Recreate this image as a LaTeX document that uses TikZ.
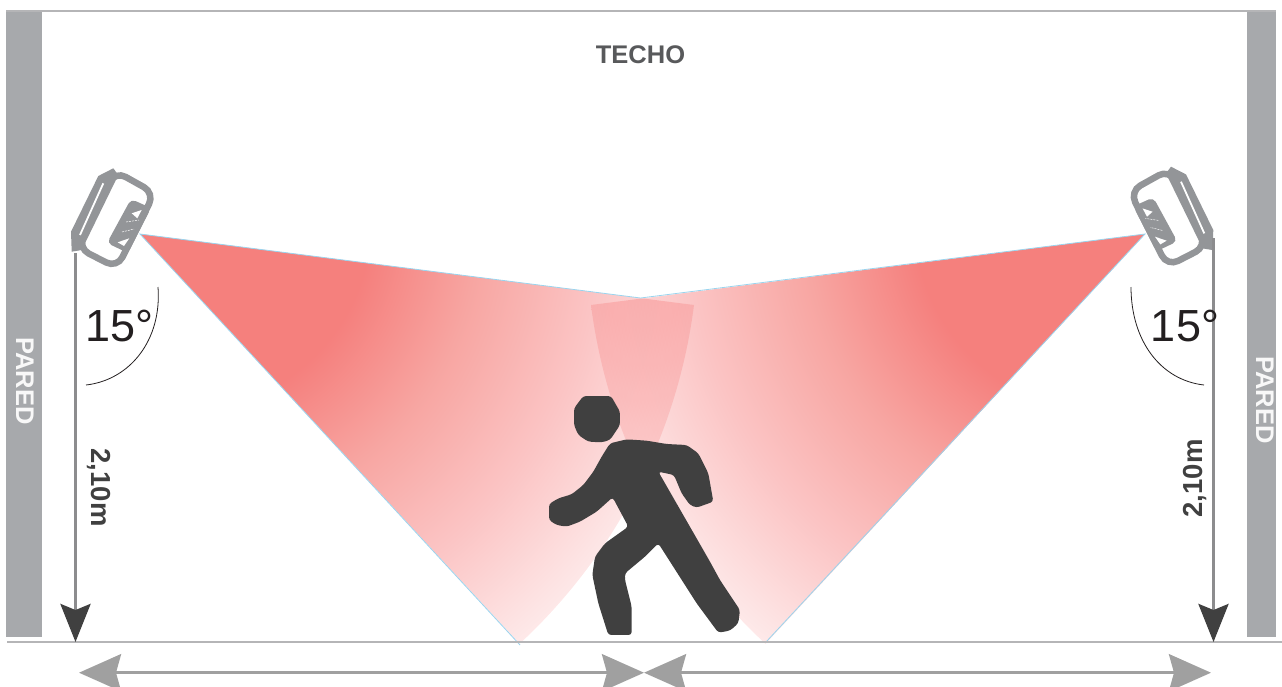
\documentclass[tikz,border=0pt]{standalone}
\usepackage{fontspec}
\setmainfont{Liberation Sans}
\usetikzlibrary{arrows.meta,positioning}
\definecolor{WGray}{HTML}{A7A9AC}
\definecolor{LGray}{HTML}{B5B5B7}
\definecolor{SGray}{HTML}{939598}
\definecolor{AGray}{HTML}{8C8C8E}
\definecolor{HGray}{HTML}{A0A0A0}
\definecolor{TGray}{HTML}{58595B}
\definecolor{PDark}{HTML}{404040}
\definecolor{DBlack}{HTML}{231F20}
\definecolor{EBlue}{HTML}{9AD4EE}
% radial fade of one sensor cone, 25bp = 620 px
\pgfdeclareradialshading{coneshade}{\pgfpoint{0bp}{0bp}}{%
  rgb(0bp)=(0.96,0.50,0.49);
  rgb(7.66bp)=(0.96,0.50,0.49);
  rgb(12.1bp)=(0.97,0.65,0.635);
  rgb(16.9bp)=(0.985,0.77,0.77);
  rgb(21bp)=(0.993,0.89,0.89);
  rgb(25bp)=(1,1,1);
  rgb(50bp)=(1,1,1)}
\begin{document}
\begin{tikzpicture}[
  x=1pt,y=-1pt,
  wall/.style={fill=WGray,draw=none},
  wlabel/.style={font=\bfseries\fontsize{25.5}{25.5}\selectfont,text=white!92!WGray,rotate=-90},
  mlabel/.style={font=\bfseries\fontsize{25.5}{25.5}\selectfont,text=TGray},
  hlabel/.style={font=\bfseries\fontsize{27.5}{27.5}\selectfont,text=PDark},
  deg/.style={font=\fontsize{45}{45}\selectfont,text=DBlack},
  limit/.style={LGray,line width=2pt},
  drop/.style={AGray,line width=3.4pt,-{Stealth[length=38pt,width=30pt,inset=6pt,color=PDark]}},
  span/.style={HGray,line width=3.4pt,{Stealth[length=42pt,width=37pt,inset=5pt,color=HGray]}-{Stealth[length=42pt,width=37pt,inset=5pt,color=HGray]}},
  angle/.style={DBlack,line width=0.8pt},
  edge/.style={EBlue,line width=0.8pt},
  sensor/.pic={
    \draw[SGray,line width=6.5pt,rounded corners=12pt,fill=white] (115,171) -- (154.5,193) -- (117,268) -- (78,248) -- cycle;
    \fill[SGray] (98.3,176) -- (113.3,168.3) -- (118.3,175) -- (81.7,250) -- (71.7,251.7) -- (71,231.7) -- cycle;
    \draw[white,line width=1.8pt] (103.3,183.3) -- (80,235);
    \fill[SGray,rounded corners=5pt] (131,199) -- (151,208) -- (128,253) -- (107,243) -- cycle;
    \fill[white] (131.7,213.3) -- (141.7,210) -- (137.3,218.3) -- cycle;
    \fill[white] (117.7,242.3) -- (129.3,238.3) -- (124,246) -- cycle;
    \draw[white,line width=0.5pt,dash pattern=on 2pt off 1pt] (126,222) -- (139,220);
    \draw[white,line width=0.5pt,dash pattern=on 2pt off 1pt] (122,232) -- (134,229);
  }
]
  \useasboundingbox (0,0) rectangle (1282,686);
  % cones
  \begin{scope}[blend group=multiply]
    \begin{scope}
      \clip (140,234) -- (694,305) arc[start angle=7.3,end angle=47.2,radius=558.5] -- cycle;
      \shade[shading=coneshade] (180,220) circle (620);
    \end{scope}
    \begin{scope}
      \clip (1145,234) -- (591,305) arc[start angle=172.7,end angle=132.8,radius=558.5] -- cycle;
      \shade[shading=coneshade] (1105,220) circle (620);
    \end{scope}
  \end{scope}
  \coordinate (apexl) at (140,234);
  \coordinate (apexr) at (1145,234);
  \coordinate (peak) at (640.5,298);
  \coordinate (footl) at (520,645);
  \coordinate (footr) at (766,642);
  \draw[edge] (footl) -- (apexl) -- (peak) -- (apexr) -- (footr);
  % walls and limits
  \fill[wall] (6,12) rectangle (42,637);
  \fill[wall] (1247,12) rectangle (1276,637);
  \draw[limit] (6,11) -- (1276,11);
  \draw[limit] (7,642) -- (1282,642);
  \node[wlabel] (paredl) at (25,381) {PARED};
  \node[wlabel] (paredr) at (1265,400) {PARED};
  \node[mlabel] (techo) at (640.5,55) {TECHO};
  % sensors
  \pic (sensl) at (0,0) {sensor};
  \pic[xscale=-1] (sensr) at (1284.3,-1.6) {sensor};
  % heights
  \coordinate (dropl) at (75.5,253);
  \coordinate (floorl) at (75.5,642);
  \coordinate (dropr) at (1213.5,238);
  \coordinate (floorr) at (1213.5,642);
  \draw[drop] (dropl) -- (floorl);
  \draw[drop] (dropr) -- (floorr);
  \node[hlabel,rotate=-90] (hl) at (99,487.5) {2,10m};
  \node[hlabel,rotate=90] (hr) at (1195,478.5) {2,10m};
  % angles
  \node[deg] (degl) at (119.5,326) {15°};
  \node[deg] (degr) at (1185,326) {15°};
  \coordinate (al1) at (158,287);
  \coordinate (al2) at (86,385);
  \coordinate (ar1) at (1131,287);
  \coordinate (ar2) at (1204,385);
  \draw[angle] (al1) .. controls (162,340) and (130,380) .. (al2);
  \draw[angle] (ar1) .. controls (1131,340) and (1160,380) .. (ar2);
  % spans
  \coordinate (s1) at (644,672.7);
  \coordinate (s2) at (79,672.7);
  \coordinate (s4) at (1211,672.7);
  \draw[span] (s2) -- (s1);
  \draw[span] (s1) -- (s4);
  % person
  \begin{scope}[shift={(530,380)},x=0.3333pt,y=-0.3333pt]
    \fill[PDark,rounded corners=3pt] (160,48) -- (243,48) -- (270,95) -- (270,135) -- (240,180) -- (215,187) -- (175,185) -- (145,165) -- (132,135) -- (132,85) -- cycle;
    \fill[PDark,rounded corners=3pt] (240,190) -- (290,178) -- (350,182) -- (410,192) -- (470,195) -- (505,220) -- (535,280) -- (550,365) -- (500,383) -- (480,375) -- (455,340) -- (432,285) -- (385,275) -- (540,545) -- (570,600) -- (630,690) -- (625,730) -- (600,752) -- (565,758) -- (500,670) -- (385,490) -- (345,530) -- (285,580) -- (285,600) -- (305,680) -- (305,765) -- (235,765) -- (205,670) -- (187,585) -- (195,530) -- (225,490) -- (295,440) -- (248,352) -- (200,395) -- (150,425) -- (110,440) -- (80,435) -- (57,420) -- (57,372) -- (85,355) -- (125,343) -- (160,315) -- (190,275) -- (215,230) -- cycle;
  \end{scope}
\end{tikzpicture}
\end{document}
